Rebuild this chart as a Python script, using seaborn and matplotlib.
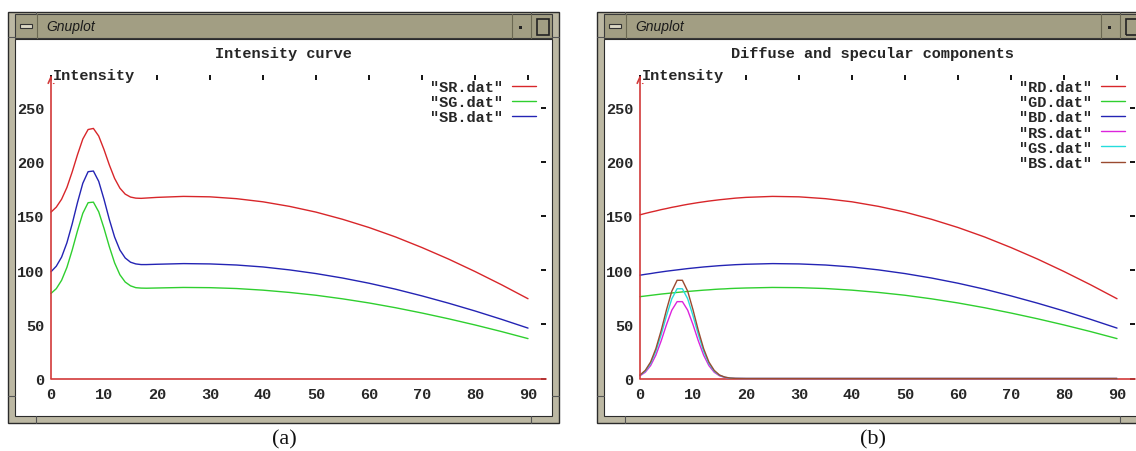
import pandas as pd
import seaborn as sns
import matplotlib.pyplot as plt
from matplotlib.patches import Rectangle
from matplotlib.lines import Line2D

# angle samples (degrees)
angle = [0, 1, 2, 3, 4, 5, 6, 7, 8, 9, 10, 11, 12, 13, 14, 15, 16, 17, 18,
         20, 25, 30, 35, 40, 45, 50, 55, 60, 65, 70, 75, 80, 85, 90]

# (a) total intensity
sr = [153.5, 158.1, 165.4, 176.2, 190.6, 206.5, 220.9, 229.7, 230.7, 223.7, 211.2, 197.1, 184.6, 175.6, 170.1, 167.4, 166.4, 166.2, 166.5,
      167.1, 168.0, 167.6, 165.9, 163.0, 158.8, 153.5, 146.9, 139.3, 130.6, 120.8, 110.2, 98.7, 86.5, 73.6]
sg = [78.5, 82.9, 90.6, 102.5, 118.5, 136.3, 152.4, 162.2, 162.7, 153.8, 138.6, 121.7, 106.7, 95.7, 89.0, 85.5, 83.8, 83.4, 83.3,
      83.5, 84.0, 83.8, 83.0, 81.5, 79.4, 76.8, 73.5, 69.7, 65.3, 60.4, 55.1, 49.4, 43.3, 36.8]
sb = [98.5, 103.6, 112.0, 125.2, 142.7, 162.4, 180.1, 190.8, 191.4, 181.9, 165.3, 146.8, 130.5, 118.5, 111.2, 107.3, 105.7, 105.1, 105.1,
      105.4, 106.0, 105.7, 104.7, 102.9, 100.2, 96.8, 92.7, 87.9, 82.4, 76.2, 69.5, 62.3, 54.6, 46.5]

# (b) diffuse components
rd = [151.0, 152.3, 153.5, 154.6, 155.8, 156.8, 157.9, 158.8, 159.8, 160.7, 161.5, 162.3, 163.0, 163.7, 164.3, 164.9, 165.4, 165.9, 166.4,
      167.1, 168.0, 167.6, 165.9, 163.0, 158.8, 153.5, 146.9, 139.3, 130.6, 120.8, 110.2, 98.7, 86.5, 73.6]
gd = [75.5, 76.1, 76.7, 77.3, 77.9, 78.4, 78.9, 79.4, 79.9, 80.3, 80.7, 81.1, 81.5, 81.8, 82.2, 82.5, 82.7, 83.0, 83.2,
      83.5, 84.0, 83.8, 83.0, 81.5, 79.4, 76.8, 73.5, 69.7, 65.3, 60.4, 55.1, 49.4, 43.3, 36.8]
bd = [95.3, 96.1, 96.8, 97.6, 98.3, 99.0, 99.6, 100.2, 100.8, 101.4, 101.9, 102.4, 102.9, 103.3, 103.7, 104.1, 104.4, 104.7, 105.0,
      105.4, 106.0, 105.7, 104.7, 102.9, 100.2, 96.8, 92.7, 87.9, 82.4, 76.2, 69.5, 62.3, 54.6, 46.5]

# (b) specular components
rs = [2.5, 5.8, 11.9, 21.6, 34.8, 49.7, 63.0, 70.9, 70.9, 63.0, 49.7, 34.8, 21.6, 11.9, 5.8, 2.5, 1.0, 0.3, 0.1,
      0, 0, 0, 0, 0, 0, 0, 0, 0, 0, 0, 0, 0, 0, 0]
gs = [3.0, 6.8, 13.9, 25.2, 40.6, 57.9, 73.5, 82.8, 82.8, 73.5, 57.9, 40.6, 25.2, 13.9, 6.8, 3.0, 1.1, 0.4, 0.1,
      0, 0, 0, 0, 0, 0, 0, 0, 0, 0, 0, 0, 0, 0, 0]
bs = [3.2, 7.5, 15.2, 27.6, 44.4, 63.4, 80.5, 90.6, 90.6, 80.5, 63.4, 44.4, 27.6, 15.2, 7.5, 3.2, 1.3, 0.4, 0.1,
      0, 0, 0, 0, 0, 0, 0, 0, 0, 0, 0, 0, 0, 0, 0]

labels_a = ['"SR.dat"', '"SG.dat"', '"SB.dat"']
labels_b = ['"RD.dat"', '"GD.dat"', '"BD.dat"', '"RS.dat"', '"GS.dat"', '"BS.dat"']
x_ticks = [0, 10, 20, 30, 40, 50, 60, 70, 80, 90]
y_ticks = [0, 50, 100, 150, 200, 250]

RED, GREEN, BLUE = '#d8262a', '#2fcf2f', '#2424b4'
MAGENTA, CYAN, BROWN = '#dc24dc', '#26dcdc', '#9a4a30'
AXIS_RED = '#d23a3a'

sns.set_style('white')
plt.rcParams['font.family'] = ['Liberation Mono', 'DejaVu Sans Mono']
MONO = dict(family='Liberation Mono', weight='bold', size=11)

W, H = 1136, 452
fig = plt.figure(figsize=(W / 100, H / 100), dpi=100)


def rect(x0, y0, x1, y1, fc, ec='none', lw=0.0, z=-2):
    fig.add_artist(Rectangle((x0 / W, 1 - y1 / H), (x1 - x0) / W, (y1 - y0) / H,
                             transform=fig.transFigure, facecolor=fc, edgecolor=ec,
                             linewidth=lw, zorder=z))


def seg(x0, y0, x1, y1, c, lw=1.0, z=-1):
    fig.add_artist(Line2D([x0 / W, x1 / W], [1 - y0 / H, 1 - y1 / H],
                          transform=fig.transFigure, color=c, linewidth=lw, zorder=z))


def window(x0, title, tag):
    # motif style frame around the gnuplot canvas
    rect(x0, 13, x0 + 551, 424, '#bcb8a3', '#2b2b2b', 1.0, -3)
    rect(x0 + 7, 15, x0 + 544, 39, '#a29e83', '#3a3a3a', 0.8)
    rect(x0 + 7, 40, x0 + 544, 417, 'white', '#2b2b2b', 0.8)
    for xc in (x0 + 28, x0 + 523):
        seg(xc, 13, xc, 15, '#555555', 0.8)
        seg(xc, 417, xc, 424, '#555555', 0.8)
    for yc in (38, 397):
        seg(x0, yc, x0 + 7, yc, '#555555', 0.8)
        seg(x0 + 544, yc, x0 + 551, yc, '#555555', 0.8)
    # title bar buttons
    seg(x0 + 29, 15, x0 + 29, 39, '#6b6852', 0.8)
    rect(x0 + 12, 25, x0 + 24, 29, '#dcd8c4', '#333333', 0.8, -1)
    seg(x0 + 504, 15, x0 + 504, 39, '#6b6852', 0.8)
    seg(x0 + 523, 15, x0 + 523, 39, '#6b6852', 0.8)
    rect(x0 + 511, 27, x0 + 514, 30, '#222222', z=-1)
    rect(x0 + 529, 20, x0 + 541, 36, 'none', '#222222', 1.2, -1)
    fig.text((x0 + 38) / W, 1 - 27 / H, 'Gnuplot', family='Liberation Sans',
             style='italic', size=10, color='#1a1a1a', va='center', ha='left')
    fig.text((x0 + 275.5) / W, 1 - 54 / H, title, ha='center', va='center', **MONO)
    fig.text((x0 + 276) / W, 1 - 440 / H, tag, family='Liberation Serif',
             size=16, ha='center', va='center', color='#111111')


def panel(x0, df, palette, labels):
    ax = fig.add_axes([(x0 + 43) / W, 1 - 379.5 / H, 494.5 / W, 303.5 / H])
    ax.patch.set_alpha(0)
    sns.lineplot(data=df, x='angle', y='value', hue='file', hue_order=labels,
                 palette=palette, estimator=None, linewidth=1.0, ax=ax)
    for ln in ax.lines:
        ln.set_clip_on(False)
    ax.axhline(0, color=AXIS_RED, linewidth=1.2, zorder=1, clip_on=False)
    ax.annotate('', xy=(0, 280), xytext=(0, 0), annotation_clip=False,
                arrowprops=dict(arrowstyle='->,head_length=0.45,head_width=0.2',
                                color=AXIS_RED, lw=1.2, shrinkA=0, shrinkB=0))
    ax.set_xlim(0, 93.3)
    ax.set_ylim(0, 280)
    ax.set_xticks(x_ticks)
    ax.set_yticks(y_ticks)
    ax.set_xticklabels([str(v) for v in x_ticks], **MONO)
    ax.set_yticklabels([str(v) for v in y_ticks], **MONO)
    for s in ax.spines.values():
        s.set_visible(False)
    ax.tick_params(direction='in', length=3.5, width=1.3, color='black',
                   top=True, right=True, labeltop=False, labelright=False)
    ax.tick_params(axis='x', pad=6)
    ax.tick_params(axis='y', pad=5)
    ax.set_xlabel('')
    ax.set_ylabel('')
    ax.text(0.4, 280, 'Intensity', ha='left', va='center', zorder=5,
            bbox=dict(facecolor='white', edgecolor='none', pad=0.5), **MONO)
    handles, labs = ax.get_legend_handles_labels()
    ax.legend(handles, labs, loc='upper right', bbox_to_anchor=(0.981, 0.984),
              frameon=False, markerfirst=False, handlelength=1.55, handletextpad=0.6,
              labelspacing=0.08, borderpad=0, borderaxespad=0,
              prop=dict(family='Liberation Mono', weight='bold', size=11))
    return ax


df_a = pd.DataFrame({'angle': angle * 3,
                     'value': sr + sg + sb,
                     'file': [l for l in labels_a for _ in angle]})
df_b = pd.DataFrame({'angle': angle * 6,
                     'value': rd + gd + bd + rs + gs + bs,
                     'file': [l for l in labels_b for _ in angle]})

pal_a = dict(zip(labels_a, [RED, GREEN, BLUE]))
pal_b = dict(zip(labels_b, [RED, GREEN, BLUE, MAGENTA, CYAN, BROWN]))

window(8, 'Intensity curve', '(a)')
window(597, 'Diffuse and specular components', '(b)')
panel(8, df_a, pal_a, labels_a)
panel(597, df_b, pal_b, labels_b)

fig.savefig('out.png', dpi=100)
